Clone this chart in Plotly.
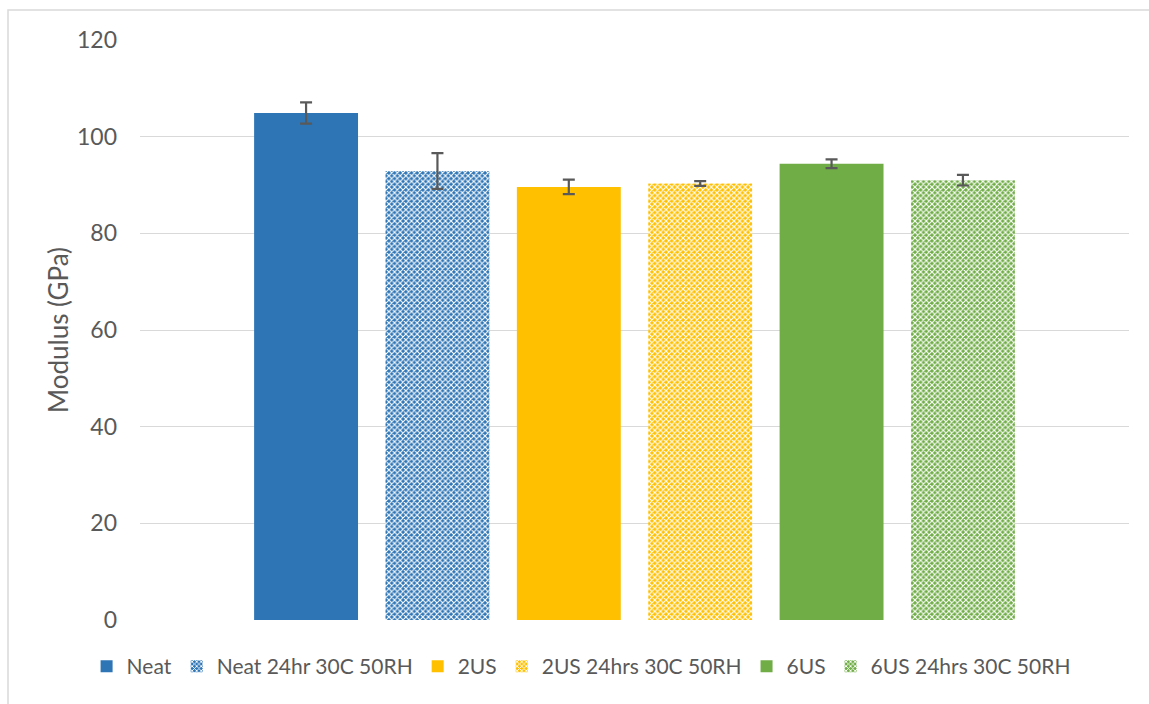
import plotly.graph_objects as go

# Flexural modulus by sample condition (single group, one bar per condition)
series_names = ["Neat", "Neat 24hr 30C 50RH", "2US", "2US 24hrs 30C 50RH", "6US", "6US 24hrs 30C 50RH"]
modulus_gpa = [104.9, 92.9, 89.6, 90.3, 94.4, 91.0]
modulus_err = [2.2, 3.7, 1.5, 0.5, 0.9, 1.1]
series_colors = ["#2E75B6", "#2E75B6", "#FFC000", "#FFC000", "#70AD47", "#70AD47"]
conditioned = [False, True, False, True, False, True]

y_ticks = [0, 20, 40, 60, 80, 100, 120]

TEXT_GREY = "#595959"
FONT = "Lato"

fig = go.Figure()
for name, val, err, col, cond in zip(series_names, modulus_gpa, modulus_err, series_colors, conditioned):
    if cond:
        # checkerboard-style fill: white lattice over the series colour
        marker = dict(
            color=col,
            line=dict(width=0),
            pattern=dict(shape="x", fgcolor="white", bgcolor=col, size=4, solidity=0.48, fillmode="replace"),
        )
    else:
        marker = dict(color=col, line=dict(width=0))
    fig.add_trace(go.Bar(
        x=[""], y=[val], name=name, marker=marker,
        error_y=dict(type="data", array=[err], visible=True, color=TEXT_GREY, thickness=2.2, width=6),
    ))

W, H = 1149, 704
ML, MR, MT, MB = 140, 20, 40, 84

fig.update_layout(
    width=W, height=H,
    margin=dict(l=ML, r=MR, t=MT, b=MB, pad=0),
    paper_bgcolor="white", plot_bgcolor="white",
    barmode="group", bargap=0.203, bargroupgap=0.209,
    font=dict(family=FONT, color=TEXT_GREY, size=21),
    showlegend=True,
    legend=dict(
        orientation="h", x=0.446, xanchor="center", y=-0.045, yanchor="top",
        font=dict(family=FONT, size=21, color=TEXT_GREY),
        itemwidth=30, traceorder="normal", tracegroupgap=0,
    ),
    xaxis=dict(showticklabels=False, showgrid=False, zeroline=False, showline=False, ticks=""),
    yaxis=dict(
        range=[0, 120], tickvals=y_ticks, showgrid=True, gridcolor="#D9D9D9", gridwidth=1.3,
        zeroline=False, showline=False, ticks="", ticklabelstandoff=22,
        tickfont=dict(family=FONT, size=23, color=TEXT_GREY),
        title=dict(text="Modulus (GPa)", font=dict(family=FONT, size=26, color=TEXT_GREY), standoff=0),
    ),
    shapes=[dict(
        type="rect", xref="paper", yref="paper",
        x0=(8 - ML) / (W - ML - MR), x1=(W + 20 - ML) / (W - ML - MR),
        y0=(H - MB - (H + 20)) / (H - MT - MB), y1=(H - MB - 10) / (H - MT - MB),
        line=dict(color="#D9D9D9", width=1.5), fillcolor="rgba(0,0,0,0)", layer="below",
    )],
)

fig.write_html("out.html")
